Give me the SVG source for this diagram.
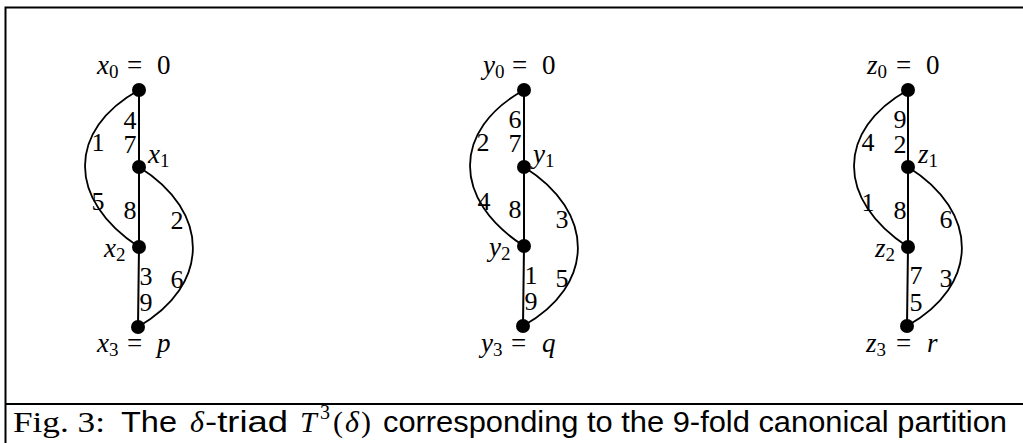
<svg xmlns="http://www.w3.org/2000/svg" width="1023" height="443" viewBox="0 0 1023 443">
<style>
text{font-family:"Liberation Serif","Times New Roman",serif;font-size:26px;fill:#000}
.m{font-size:27px}
.i{font-style:italic}
.sub{font-size:19px}
.el{text-anchor:middle}
.edge{fill:none;stroke:#000;stroke-width:1.8}
.vert{fill:none;stroke:#000;stroke-width:2}
.frame{fill:none;stroke:#000;stroke-width:2}
.dot{fill:#000}
.sans{font-family:"Liberation Sans",Arial,sans-serif;font-size:29px}
.cap{font-size:30px}
</style>
<g id="frame">
<path class="frame" d="M5.5,443 V7.5 H1023"/>
<path class="frame" d="M5,404 H1023"/>
</g>
<g id="connectors">
<path class="vert" d="M139,90 V167 V247 L138,327"/>
<path class="edge" d="M139,90 C67,130 67,200 139,247"/>
<path class="edge" d="M139,167 C211,212 211,285 138,327"/>
<path class="vert" d="M524,90 V167 V246 L523,326"/>
<path class="edge" d="M524,90 C452,130 452,200 524,246"/>
<path class="edge" d="M524,167 C596,212 596,285 523,326"/>
<path class="vert" d="M908,90 V167 V247 L907,326"/>
<path class="edge" d="M908,90 C836,130 836,200 908,247"/>
<path class="edge" d="M908,167 C980,212 980,285 907,326"/>
</g>
<g id="edge-labels">
<g id="labels-x">
<text class="el" x="130" y="129">4</text><text class="el" x="130" y="153">7</text>
<text class="el" x="98" y="151">1</text><text class="el" x="98" y="210">5</text>
<text class="el" x="130" y="219">8</text>
<text class="el" x="177" y="229">2</text><text class="el" x="177" y="288">6</text>
<text class="el" x="146" y="285">3</text><text class="el" x="146" y="311">9</text>
</g>
<g id="labels-y">
<text class="el" x="515" y="128">6</text><text class="el" x="515" y="152">7</text>
<text class="el" x="483" y="151">2</text><text class="el" x="484" y="210">4</text>
<text class="el" x="515" y="218">8</text>
<text class="el" x="562" y="228">3</text><text class="el" x="562" y="287">5</text>
<text class="el" x="531" y="284">1</text><text class="el" x="531" y="310">9</text>
</g>
<g id="labels-z">
<text class="el" x="900" y="128">9</text><text class="el" x="900" y="153">2</text>
<text class="el" x="868" y="151">4</text><text class="el" x="868" y="211">1</text>
<text class="el" x="900" y="219">8</text>
<text class="el" x="946" y="228">6</text><text class="el" x="946" y="287">3</text>
<text class="el" x="916" y="284">7</text><text class="el" x="916" y="311">5</text>
</g>
</g>
<g id="node-x0"><circle class="dot" cx="139" cy="90" r="7"/><text class="m" y="74"><tspan class="i" x="97">x</tspan><tspan class="sub" dy="4">0</tspan><tspan x="127" dy="-4">=</tspan><tspan x="157">0</tspan></text></g>
<g id="node-x1"><circle class="dot" cx="139" cy="167" r="7"/><text class="m" y="163"><tspan class="i" x="148">x</tspan><tspan class="sub" dy="4">1</tspan></text></g>
<g id="node-x2"><circle class="dot" cx="139" cy="247" r="7"/><text class="m" y="257"><tspan class="i" x="104">x</tspan><tspan class="sub" dy="4">2</tspan></text></g>
<g id="node-x3"><circle class="dot" cx="138" cy="327" r="7"/><text class="m" y="352"><tspan class="i" x="97">x</tspan><tspan class="sub" dy="4">3</tspan><tspan x="127" dy="-4">=</tspan><tspan class="i" x="157">p</tspan></text></g>
<g id="node-y0"><circle class="dot" cx="524" cy="90" r="7"/><text class="m" y="74"><tspan class="i" x="483">y</tspan><tspan class="sub" dy="4">0</tspan><tspan x="512" dy="-4">=</tspan><tspan x="542">0</tspan></text></g>
<g id="node-y1"><circle class="dot" cx="524" cy="167" r="7"/><text class="m" y="163"><tspan class="i" x="533">y</tspan><tspan class="sub" dy="4">1</tspan></text></g>
<g id="node-y2"><circle class="dot" cx="524" cy="246" r="7"/><text class="m" y="256"><tspan class="i" x="489">y</tspan><tspan class="sub" dy="4">2</tspan></text></g>
<g id="node-y3"><circle class="dot" cx="523" cy="326" r="7"/><text class="m" y="352"><tspan class="i" x="481">y</tspan><tspan class="sub" dy="4">3</tspan><tspan x="511" dy="-4">=</tspan><tspan class="i" x="542">q</tspan></text></g>
<g id="node-z0"><circle class="dot" cx="908" cy="90" r="7"/><text class="m" y="74"><tspan class="i" x="867">z</tspan><tspan class="sub" dy="4">0</tspan><tspan x="896" dy="-4">=</tspan><tspan x="926">0</tspan></text></g>
<g id="node-z1"><circle class="dot" cx="908" cy="167" r="7"/><text class="m" y="163"><tspan class="i" x="918">z</tspan><tspan class="sub" dy="4">1</tspan></text></g>
<g id="node-z2"><circle class="dot" cx="908" cy="247" r="7"/><text class="m" y="257"><tspan class="i" x="875">z</tspan><tspan class="sub" dy="4">2</tspan></text></g>
<g id="node-z3"><circle class="dot" cx="907" cy="326" r="7"/><text class="m" y="352"><tspan class="i" x="866">z</tspan><tspan class="sub" dy="4">3</tspan><tspan x="896" dy="-4">=</tspan><tspan class="i" x="927">r</tspan></text></g>
<g id="caption">
<text class="cap" x="13" y="432" textLength="92" lengthAdjust="spacingAndGlyphs">Fig. 3:</text>
<text class="sans" x="121" y="432" textLength="56" lengthAdjust="spacingAndGlyphs">The</text>
<text class="cap i" x="190" y="432">δ</text>
<text class="sans" x="205" y="432" textLength="83" lengthAdjust="spacingAndGlyphs">-triad</text>
<text class="cap i" x="300" y="432">T</text>
<text x="320" y="419" style="font-size:20px">3</text>
<text class="cap" x="333" y="432">(</text>
<text class="cap i" x="345" y="432">δ</text>
<text class="cap" x="361" y="432">)</text>
<text class="sans" x="383" y="432" textLength="624" lengthAdjust="spacingAndGlyphs">corresponding to the 9-fold canonical partition</text>
</g>
</svg>
